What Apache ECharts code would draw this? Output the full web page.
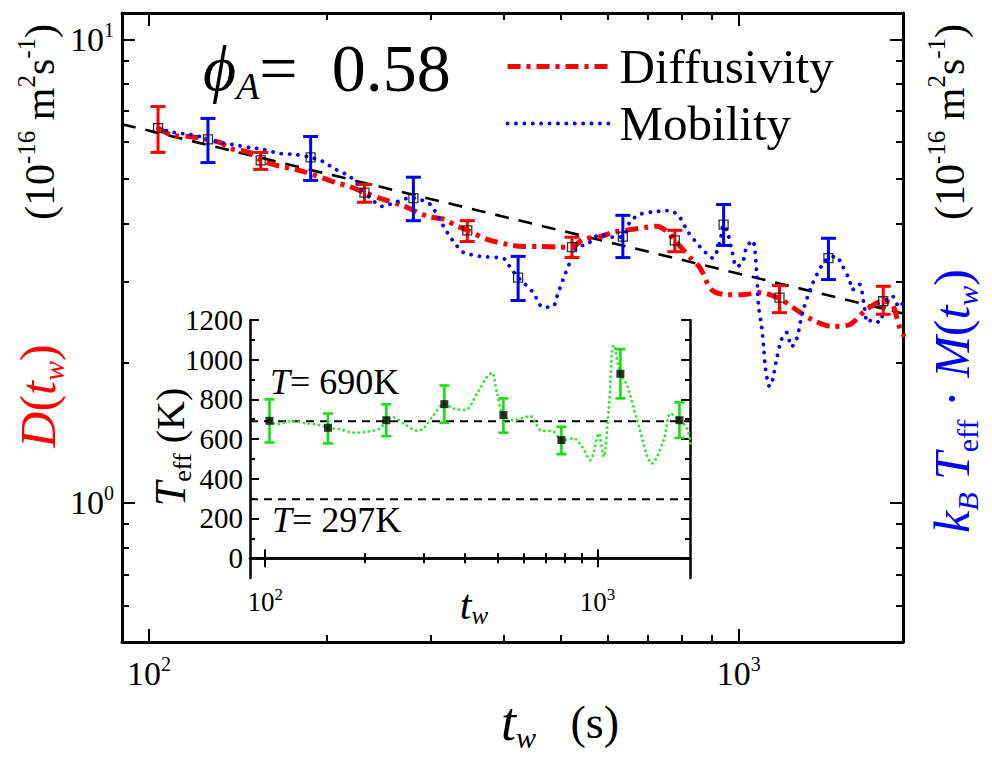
<!DOCTYPE html>
<html>
<head>
<meta charset="utf-8">
<script src="https://cdn.jsdelivr.net/npm/echarts@6.0.0/dist/echarts.min.js"></script>
<style>html,body{margin:0;padding:0;background:#fff;}#c{width:992px;height:758px;}</style>
</head>
<body>
<div id="c"></div>
<script>
// ---------- data ----------
const tRange = [90, 1900];
const dRange = [0.5, 11.4];
const teffRange = [-100, 1200];

const mainXMajor = [100, 1000];
const mainXMinor = [200, 300, 400, 500, 600, 700, 800, 900];
const mainYMajor = [1, 10];
const mainYMinor = [0.6, 0.7, 0.8, 0.9, 2, 3, 4, 5, 6, 7, 8, 9];
const insetYMajor = [0, 200, 400, 600, 800, 1000, 1200];
const insetYMinor = [100, 300, 500, 700, 900, 1100];

// black dashed power-law guide
const fitT = [90, 1900];
const fitD = [6.56, 2.56];

// Diffusivity curve
const diffT = [103.6, 109.8, 117.3, 131.9, 137.1, 148.2, 154.7, 162.1, 182.2, 207.3, 218.9, 232, 246.0, 269.0, 296.6, 315.6, 333.4, 346.6, 374.8, 405.0, 431.0, 460.6, 497.8, 521.7, 544.5, 581.9, 612.1, 661.6, 698.8, 726.6, 755.5, 779.4, 833.0, 859.1, 900.2, 954.3, 1015.7, 1085, 1173, 1234, 1334, 1442, 1541, 1647, 1759, 1822, 1873, 1910];
const diffD = [6.43, 6.20, 6.17, 5.99, 5.82, 5.70, 5.48, 5.37, 5.19, 4.91, 4.81, 4.67, 4.54, 4.38, 4.15, 4.09, 3.95, 3.87, 3.70, 3.61, 3.57, 3.57, 3.56, 3.56, 3.70, 3.75, 3.83, 3.89, 3.93, 3.95, 3.85, 3.68, 3.35, 3.22, 2.88, 2.81, 2.81, 2.84, 2.76, 2.64, 2.48, 2.40, 2.42, 2.61, 2.72, 2.68, 2.40, 2.28];
// Diffusivity error bars
const diffErrT = [103.6, 154.7, 232, 346.6, 521.7, 779.4, 1173, 1759];
const diffErrMid = [6.43, 5.48, 4.67, 3.87, 3.56, 3.68, 2.77, 2.72];
const diffErrLo = [5.70, 5.24, 4.45, 3.66, 3.38, 3.48, 2.57, 2.55];
const diffErrHi = [7.16, 5.70, 4.86, 4.06, 3.74, 3.87, 2.94, 2.93];

// Mobility curve (kB*Teff*M)
const mobT = [103.6, 109.8, 117.3, 123.4, 125.9, 131.9, 138.7, 148.2, 155.9, 166.6, 177.3, 188, 197.0, 207.3, 218.9, 227.5, 236.6, 248.9, 261.8, 276.3, 280.8, 288.5, 300.0, 309.5, 320.5, 333.4, 341.2, 364.6, 389.5, 401.8, 409.8, 422.7, 431, 448.2, 466.0, 484.6, 492.1, 503.8, 517.6, 532.0, 553.2, 581.9, 612.1, 636.3, 654.1, 680.1, 726.6, 755.5, 773.2, 794.7, 819.7, 859.1, 882.5, 903.6, 928.7, 943, 957.9, 973.2, 992.2, 1015.7, 1031.6, 1056.1, 1072.8, 1081, 1094, 1102.6, 1111, 1128.7, 1142, 1159.8, 1182.7, 1205.8, 1229.6, 1253.6, 1283.4, 1329, 1387.3, 1420, 1464.9, 1493.8, 1541, 1559.1, 1602, 1633.7, 1653, 1685, 1732, 1780, 1822, 1873, 1910];
const mobD = [6.43, 6.30, 6.23, 6.14, 6.08, 5.99, 5.93, 5.84, 5.79, 5.67, 5.64, 5.56, 5.45, 5.24, 5.06, 4.81, 4.56, 4.36, 4.45, 4.54, 4.54, 4.51, 4.40, 4.13, 3.83, 3.57, 3.47, 3.40, 3.38, 3.35, 3.22, 3.06, 2.99, 2.84, 2.64, 2.65, 2.79, 3.03, 3.30, 3.56, 3.61, 3.79, 3.74, 3.75, 4.03, 4.19, 4.25, 4.27, 4.25, 4.13, 3.85, 3.57, 3.45, 3.37, 3.64, 3.98, 3.83, 3.52, 3.23, 3.30, 3.56, 3.68, 3.14, 2.65, 2.40, 2.17, 1.94, 1.78, 1.84, 2.04, 2.25, 2.33, 2.17, 2.25, 2.57, 2.93, 3.27, 3.37, 3.40, 3.27, 3.03, 2.88, 2.96, 2.65, 2.45, 2.48, 2.45, 2.74, 2.79, 2.64, 2.74];
// Mobility error bars
const mobErrT = [125.9, 188, 280.8, 422.7, 636.3, 943, 1420];
const mobErrMid = [6.08, 5.56, 4.54, 3.06, 3.75, 3.98, 3.37];
const mobErrLo = [5.42, 4.96, 4.06, 2.73, 3.38, 3.59, 3.03];
const mobErrHi = [6.75, 6.17, 5.04, 3.40, 4.17, 4.40, 3.72];

// Inset: effective temperature
const teffT = [103.0, 108.4, 118.9, 133.5, 146.4, 154.5, 168.2, 184.5, 202.5, 222.0, 231.5, 243.5, 261.0, 286.4, 299.8, 321.3, 346.2, 369.2, 400.4, 434.3, 465.4, 481.8, 498.8, 521.2, 559.8, 628.4, 673.4, 738.5, 779.2, 848.3, 899.2, 952.6, 1009, 1045, 1081, 1120, 1173, 1229, 1317, 1462, 1584, 1660, 1766, 1863, 1905];
const teffV = [692, 674, 690, 679, 670, 657, 649, 632, 637, 654, 695, 709, 679, 642, 654, 721, 776, 754, 746, 830, 914, 934, 830, 721, 696, 716, 645, 637, 595, 603, 561, 494, 628, 511, 746, 1074, 929, 872, 696, 477, 595, 729, 695, 654, 578];
const teffErrT = [103.0, 154.5, 231.5, 346.2, 521.2, 779.2, 1173, 1766];
const teffErrMid = [692, 657, 695, 776, 721, 595, 929, 695];
const teffErrLo = [583, 578, 615, 682, 632, 524, 805, 606];
const teffErrHi = [800, 729, 775, 870, 805, 662, 1053, 785];
const refTemps = [690, 297];

// ---------- helpers ----------
const FONT = 'Liberation Serif';
const zip = (a, b) => a.map((v, i) => [v, b[i]]);
const zip3 = (a, b, c) => a.map((v, i) => [v, b[i], c[i]]);

function errBars(data, color, xi, yi, cap, lw) {
  return {
    type: 'custom', xAxisIndex: xi, yAxisIndex: yi, data: data, z: 6, silent: true,
    encode: {x: 0, y: [1, 2]},
    renderItem: function (params, api) {
      const x = api.value(0), lo = api.value(1), hi = api.value(2);
      const a = api.coord([x, lo]), b = api.coord([x, hi]);
      const st = {stroke: color, lineWidth: lw};
      return {type: 'group', children: [
        {type: 'line', shape: {x1: a[0], y1: a[1], x2: b[0], y2: b[1]}, style: st},
        {type: 'line', shape: {x1: a[0] - cap / 2, y1: a[1], x2: a[0] + cap / 2, y2: a[1]}, style: st},
        {type: 'line', shape: {x1: b[0] - cap / 2, y1: b[1], x2: b[0] + cap / 2, y2: b[1]}, style: st}
      ]};
    }
  };
}

const supRich = (big, small) => ({
  b: {fontSize: big, fontFamily: FONT, color: '#000', lineHeight: big * 1.15},
  s: {fontSize: small, fontFamily: FONT, color: '#000', verticalAlign: 'top', lineHeight: small}
});
const powFmt = v => '{b|10}{s|' + Math.round(Math.log10(v)) + '}';

function logX(grid, pos, ticks, len, lw, labels, lab) {
  const ax = {
    type: 'log', logBase: 10, gridIndex: grid, position: pos, min: tRange[0], max: tRange[1],
    axisLine: {show: lw > 0, lineStyle: {color: '#000', width: lw}},
    axisTick: {show: true, inside: true, length: len, customValues: ticks, lineStyle: {color: '#000', width: 2}},
    splitLine: {show: false}, minorTick: {show: false},
    axisLabel: {show: false}
  };
  if (labels) ax.axisLabel = Object.assign({show: true, customValues: labels, formatter: powFmt, fontFamily: FONT}, lab);
  return ax;
}
function logY(grid, pos, ticks, len, lw, labels, lab) {
  const ax = {
    type: 'log', logBase: 10, gridIndex: grid, position: pos, min: dRange[0], max: dRange[1],
    axisLine: {show: lw > 0, lineStyle: {color: '#000', width: lw}},
    axisTick: {show: true, inside: true, length: len, customValues: ticks, lineStyle: {color: '#000', width: 2}},
    splitLine: {show: false}, minorTick: {show: false},
    axisLabel: {show: false}
  };
  if (labels) ax.axisLabel = Object.assign({show: true, customValues: labels, formatter: powFmt, fontFamily: FONT}, lab);
  return ax;
}
function linY(grid, pos, ticks, len, lw, labels, lab) {
  const ax = {
    type: 'value', gridIndex: grid, position: pos, min: teffRange[0], max: teffRange[1],
    axisLine: {show: lw > 0, lineStyle: {color: '#000', width: lw}},
    axisTick: {show: true, inside: true, length: len, customValues: ticks, lineStyle: {color: '#000', width: 2}},
    splitLine: {show: false},
    axisLabel: {show: false}
  };
  if (labels) ax.axisLabel = Object.assign({show: true, customValues: labels, formatter: v => String(v)}, lab);
  return ax;
}

const mainLab = {margin: 12, rich: supRich(34, 20)};
const mainYLab = {margin: 8, rich: supRich(34, 20)};
const insetXLab = {margin: 8, rich: supRich(27, 17)};
const insetYLab = {margin: 7, fontSize: 29, fontFamily: FONT, color: '#000'};

const xAxes = [
  logX(0, 'bottom', mainXMinor, 7, 3, mainXMajor, mainLab),
  logX(0, 'bottom', mainXMajor, 13, 0),
  logX(0, 'top', mainXMinor, 7, 3),
  logX(0, 'top', mainXMajor, 13, 0),
  logX(1, 'bottom', mainXMinor, 5, 2.5, mainXMajor, insetXLab),
  logX(1, 'bottom', mainXMajor, 9, 0),
  logX(1, 'top', mainXMinor, 5, 2.5),
  logX(1, 'top', mainXMajor, 9, 0)
];
const yAxes = [
  logY(0, 'left', mainYMinor, 7, 3, mainYMajor, mainYLab),
  logY(0, 'left', mainYMajor, 13, 0),
  logY(0, 'right', mainYMinor, 7, 3),
  logY(0, 'right', mainYMajor, 13, 0),
  linY(1, 'left', insetYMinor, 5, 2.5, insetYMajor, insetYLab),
  linY(1, 'left', insetYMajor, 9, 0),
  linY(1, 'right', insetYMinor, 5, 2.5),
  linY(1, 'right', insetYMajor, 9, 0)
];

const series = [
  {type: 'line', name: 'fit', data: zip(fitT, fitD), xAxisIndex: 0, yAxisIndex: 0, symbol: 'none', silent: true, z: 2,
   lineStyle: {color: '#000', width: 2.6, type: [14, 10]}},
  {type: 'line', name: 'Diffusivity', data: zip(diffT, diffD), xAxisIndex: 0, yAxisIndex: 0, symbol: 'none', smooth: 0.3, z: 3,
   itemStyle: {color: '#ff0000'}, lineStyle: {color: '#ff0000', width: 5, type: [13, 6, 4, 6]}},
  {type: 'line', name: 'Mobility', data: zip(mobT, mobD), xAxisIndex: 0, yAxisIndex: 0, symbol: 'none', smooth: 0.3, z: 3,
   itemStyle: {color: '#0000ff'}, lineStyle: {color: '#0000ff', width: 3.8, type: [0.1, 8.3], cap: 'round'}},
  errBars(zip3(diffErrT, diffErrLo, diffErrHi), '#ff0000', 0, 0, 15, 3),
  errBars(zip3(mobErrT, mobErrLo, mobErrHi), '#0000ff', 0, 0, 15, 3),
  {type: 'scatter', name: 'dpts', data: zip(diffErrT, diffErrMid).concat(zip(mobErrT, mobErrMid)), xAxisIndex: 0, yAxisIndex: 0,
   symbol: 'rect', symbolSize: 9, z: 7, silent: true,
   itemStyle: {color: 'rgba(255,255,255,0)', borderColor: '#000', borderWidth: 1.3}},
  // inset
  {type: 'line', name: 'ref1', data: zip(tRange, [refTemps[0], refTemps[0]]), xAxisIndex: 4, yAxisIndex: 4, symbol: 'none', silent: true, z: 2,
   lineStyle: {color: '#000', width: 2, type: [8, 6]}},
  {type: 'line', name: 'ref2', data: zip(tRange, [refTemps[1], refTemps[1]]), xAxisIndex: 4, yAxisIndex: 4, symbol: 'none', silent: true, z: 2,
   lineStyle: {color: '#000', width: 2, type: [8, 6]}},
  {type: 'line', name: 'Teff', data: zip(teffT, teffV), xAxisIndex: 4, yAxisIndex: 4, symbol: 'none', smooth: 0.3, silent: true, z: 3,
   lineStyle: {color: '#2ee82e', width: 2.8, type: [0.1, 5], cap: 'round'}},
  errBars(zip3(teffErrT, teffErrLo, teffErrHi), '#10e010', 4, 4, 10, 2.6),
  {type: 'scatter', name: 'tpts', data: zip(teffErrT, teffErrMid), xAxisIndex: 4, yAxisIndex: 4,
   symbol: 'rect', symbolSize: 8, z: 7, silent: true, itemStyle: {color: '#000'}}
];

const it = (s) => ({fontSize: s, fontFamily: FONT, fontStyle: 'italic'});
const rm = (s) => ({fontSize: s, fontFamily: FONT});

const graphics = [
  {type: 'text', x: 203, y: 68, z: 10, style: {
    text: '{p|ϕ}{a|A}{e|=  0.58}', fill: '#000', textAlign: 'left', textVerticalAlign: 'middle', align: 'left', verticalAlign: 'middle',
    fontFamily: FONT,
    rich: {p: Object.assign(it(64), {lineHeight: 74}), a: Object.assign(it(38), {verticalAlign: 'bottom', lineHeight: 38}), e: Object.assign(rm(68), {lineHeight: 74})}
  }},
  // left axis title
  {type: 'text', x: 40, y: 122, rotation: Math.PI / 2, z: 10, style: {
    text: '{n|(10}{s|-16}{n| m}{s|2}{n|s}{s|-1}{n|)}', fill: '#000', textAlign: 'center', textVerticalAlign: 'middle', align: 'center', verticalAlign: 'middle',
    fontFamily: FONT,
    rich: {n: Object.assign(rm(42), {lineHeight: 52}), s: Object.assign(rm(25), {verticalAlign: 'top', lineHeight: 25})}
  }},
  {type: 'text', x: 38, y: 396, rotation: Math.PI / 2, z: 10, style: {
    text: '{i|D}{n|(}{i|t}{w|w}{n|)}', fill: '#ff0000', textAlign: 'center', textVerticalAlign: 'middle', align: 'center', verticalAlign: 'middle',
    fontFamily: FONT,
    rich: {i: Object.assign(it(50), {lineHeight: 60, color: '#ff0000'}), n: Object.assign(rm(50), {lineHeight: 60, color: '#ff0000'}),
           w: Object.assign(it(30), {verticalAlign: 'bottom', lineHeight: 30, color: '#ff0000'})}
  }},
  // right axis title
  {type: 'text', x: 950, y: 122, rotation: Math.PI / 2, z: 10, style: {
    text: '{n|(10}{s|-16}{n| m}{s|2}{n|s}{s|-1}{n|)}', fill: '#000', textAlign: 'center', textVerticalAlign: 'middle', align: 'center', verticalAlign: 'middle',
    fontFamily: FONT,
    rich: {n: Object.assign(rm(42), {lineHeight: 52}), s: Object.assign(rm(25), {verticalAlign: 'top', lineHeight: 25})}
  }},
  {type: 'text', x: 952, y: 401, rotation: Math.PI / 2, z: 10, style: {
    text: '{i|k}{w|B}{i| T}{r|eff}{n| · }{i|M}{n|(}{i|t}{w|w}{n|)}', fill: '#0000ff', textAlign: 'center', textVerticalAlign: 'middle', align: 'center', verticalAlign: 'middle',
    fontFamily: FONT,
    rich: {i: Object.assign(it(50), {lineHeight: 60, color: '#0000ff'}), n: Object.assign(rm(50), {lineHeight: 60, color: '#0000ff'}),
           w: Object.assign(it(30), {verticalAlign: 'bottom', lineHeight: 30, color: '#0000ff'}),
           r: Object.assign(rm(30), {verticalAlign: 'bottom', lineHeight: 30, color: '#0000ff'})}
  }},
  // bottom axis title
  {type: 'text', x: 560, y: 722, z: 10, style: {
    text: '{i|t}{w|w}{n|   (s)}', fill: '#000', textAlign: 'center', textVerticalAlign: 'middle', align: 'center', verticalAlign: 'middle',
    fontFamily: FONT,
    rich: {i: Object.assign(it(54), {lineHeight: 60}), n: Object.assign(rm(46), {lineHeight: 60}), w: Object.assign(it(30), {verticalAlign: 'bottom', lineHeight: 30})}
  }},
  // inset titles
  {type: 'text', x: 474, y: 605, z: 10, style: {
    text: '{i|t}{w|w}', fill: '#000', textAlign: 'center', textVerticalAlign: 'middle', align: 'center', verticalAlign: 'middle',
    fontFamily: FONT,
    rich: {i: Object.assign(it(42), {lineHeight: 46}), w: Object.assign(it(25), {verticalAlign: 'bottom', lineHeight: 25})}
  }},
  {type: 'text', x: 170, y: 447, rotation: Math.PI / 2, z: 10, style: {
    text: '{i|T}{w|eff}{n| (K)}', fill: '#000', textAlign: 'center', textVerticalAlign: 'middle', align: 'center', verticalAlign: 'middle',
    fontFamily: FONT,
    rich: {i: Object.assign(it(44), {lineHeight: 50}), n: Object.assign(rm(40), {lineHeight: 50}), w: Object.assign(rm(26), {verticalAlign: 'bottom', lineHeight: 26})}
  }},
  {type: 'text', x: 270, y: 382, z: 10, style: {
    text: '{i|T}{n|= 690K}', fill: '#000', textAlign: 'left', textVerticalAlign: 'middle', align: 'left', verticalAlign: 'middle',
    fontFamily: FONT,
    rich: {i: it(36), n: rm(36)}
  }},
  {type: 'text', x: 272, y: 520, z: 10, style: {
    text: '{i|T}{n|= 297K}', fill: '#000', textAlign: 'left', textVerticalAlign: 'middle', align: 'left', verticalAlign: 'middle',
    fontFamily: FONT,
    rich: {i: it(36), n: rm(36)}
  }}
];

const chart = echarts.init(document.getElementById('c'), null, {renderer: 'svg'});
chart.setOption({
  animation: false,
  backgroundColor: '#fff',
  textStyle: {fontFamily: FONT},
  grid: [
    {left: 122, top: 13, width: 781, height: 629, outerBoundsMode: 'none', containLabel: false},
    {left: 250, top: 320, width: 440, height: 258, outerBoundsMode: 'none', containLabel: false}
  ],
  legend: {
    data: ['Diffusivity', 'Mobility'], orient: 'vertical', left: 505, top: 42,
    itemWidth: 103, itemHeight: 24, itemGap: 8, padding: 0, selectedMode: false,
    itemStyle: {opacity: 0},
    lineStyle: {width: 'inherit', type: 'inherit', cap: 'inherit'},
    textStyle: {fontSize: 49, fontFamily: FONT, color: '#000', padding: [0, 0, 0, 4]}
  },
  xAxis: xAxes,
  yAxis: yAxes,
  series: series,
  graphic: graphics
});
</script>
</body>
</html>
